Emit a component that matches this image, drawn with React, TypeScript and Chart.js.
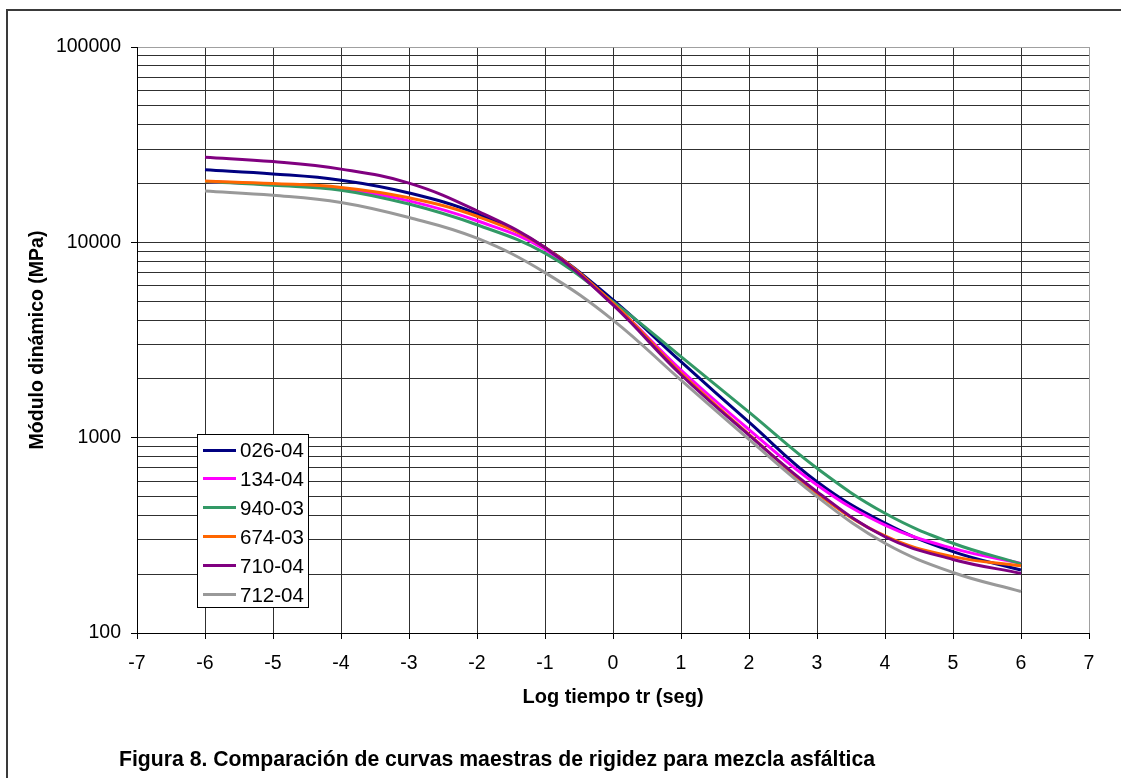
import React, { useEffect, useRef } from "react";
import { Chart, registerables } from "chart.js";

Chart.register(...registerables);

const logTime = [-6, -5, -4, -3, -2, -1, 0, 1, 2, 3, 4, 5, 6];
const s02604 = [23500, 22400, 20800, 17900, 14000, 9400, 5070, 2450, 1200, 595, 365, 261, 210];
const s13404 = [20500, 19800, 18800, 16300, 12900, 9200, 4850, 2220, 1100, 573, 357, 271, 227];
const s94003 = [20500, 19600, 18500, 15700, 12300, 8800, 4970, 2600, 1350, 697, 410, 288, 226];
const s67403 = [20600, 20000, 19100, 16900, 13600, 9400, 4880, 2140, 1040, 519, 314, 246, 221];
const s71004 = [27300, 25900, 23700, 20100, 14500, 9400, 4780, 2100, 1030, 529, 311, 238, 202];
const s71204 = [18300, 17400, 16000, 13400, 10500, 7000, 4000, 1970, 980, 499, 288, 204, 163];

const seriesNames = ["026-04", "134-04", "940-03", "674-03", "710-04", "712-04"];
const seriesValues = [s02604, s13404, s94003, s67403, s71004, s71204];
const seriesColors = ["#000080", "#FF00FF", "#339966", "#FF6600", "#800080", "#999999"];

const yMajorTicks = [100, 1000, 10000, 100000];
const xTitle = "Log tiempo tr (seg)";
const yTitle = "Módulo dinámico (MPa)";
const caption = "Figura 8. Comparación de curvas maestras de rigidez para mezcla asfáltica";

const FONT = "Arial, 'Liberation Sans', sans-serif";

function isMajor(v: number) {
  return yMajorTicks.some((m) => Math.abs(m - v) < 1e-6);
}

export default function App() {
  const ref = useRef<HTMLCanvasElement | null>(null);

  useEffect(() => {
    if (!ref.current) return;
    const datasets = seriesNames.map((name, i) => ({
      label: name,
      data: logTime.map((x, j) => ({ x, y: seriesValues[i][j] })),
      borderColor: seriesColors[i],
      backgroundColor: seriesColors[i],
      borderWidth: 3,
      pointRadius: 0,
      fill: false,
      tension: 0.4,
      order: seriesNames.length - i,
    }));

    const chart = new Chart(ref.current, {
      type: "line",
      data: { datasets },
      options: {
        animation: false,
        responsive: false,
        layout: { padding: { left: 0, top: 47, right: 32, bottom: 0 } },
        plugins: { legend: { display: false }, tooltip: { enabled: false } },
        scales: {
          x: {
            type: "linear",
            min: -7,
            max: 7,
            afterFit: (scale: any) => {
              scale.height = 145;
            },
            ticks: {
              stepSize: 1,
              color: "#000",
              padding: 13,
              font: { family: FONT, size: 19.5 },
            },
            grid: {
              color: (ctx: any) => (ctx.tick && ctx.tick.value === 7 ? "#a0a0a0" : "#303030"),
              lineWidth: 1,
              tickLength: 6,
              tickColor: "#000",
            },
            border: { color: "#000", width: 1 },
            title: {
              display: true,
              text: xTitle,
              color: "#000",
              font: { family: FONT, size: 20, weight: "bold" },
              padding: { top: 0, bottom: 69 },
            },
          },
          y: {
            type: "logarithmic",
            min: 100,
            max: 100000,
            afterFit: (scale: any) => {
              scale.width = 137;
            },
            afterBuildTicks: (scale: any) => {
              const t: { value: number }[] = [];
              for (let p = 100; p < 100000; p *= 10) {
                for (let k = 1; k <= 9; k++) t.push({ value: p * k });
              }
              t.push({ value: 100000 });
              scale.ticks = t;
            },
            ticks: {
              autoSkip: false,
              color: "#000",
              padding: 10,
              font: { family: FONT, size: 19.5 },
              callback: (v: any) => (isMajor(Number(v)) ? String(Math.round(Number(v))) : ""),
            },
            grid: {
              color: (ctx: any) => (ctx.tick && ctx.tick.value === 100000 ? "#a0a0a0" : "#303030"),
              lineWidth: 1,
              tickLength: 6,
              tickColor: (ctx: any) => (ctx.tick && isMajor(ctx.tick.value) ? "#000" : "rgba(0,0,0,0)"),
            },
            border: { color: "#000", width: 1 },
            title: {
              display: true,
              text: yTitle,
              color: "#000",
              font: { family: FONT, size: 19.5, weight: "bold" },
              padding: { top: 26, bottom: 0 },
            },
          },
        },
      },
    });
    return () => chart.destroy();
  }, []);

  return (
    <div
      style={{
        position: "absolute",
        left: 0,
        top: 0,
        width: 1121,
        height: 778,
        overflow: "hidden",
        background: "#fff",
        fontFamily: FONT,
      }}
    >
      <div
        style={{
          position: "absolute",
          left: 6,
          top: 9,
          width: 1300,
          height: 1000,
          borderLeft: "2px solid #3a3a3a",
          borderTop: "2px solid #3a3a3a",
        }}
      />
      <canvas ref={ref} width={1121} height={778} style={{ position: "absolute", left: 0, top: 0 }} />
      <div
        style={{
          position: "absolute",
          left: 197,
          top: 434,
          width: 110,
          height: 172,
          border: "1px solid #000",
          background: "#fff",
        }}
      >
        {seriesNames.map((n, i) => (
          <div
            key={n}
            style={{
              position: "absolute",
              left: 0,
              top: 15 + i * 28.9 - 14,
              height: 28,
              display: "flex",
              alignItems: "center",
            }}
          >
            <div style={{ marginLeft: 5, width: 33, height: 3, background: seriesColors[i] }} />
            <span style={{ marginLeft: 4, fontSize: 20.5, color: "#000", lineHeight: "28px" }}>{n}</span>
          </div>
        ))}
      </div>
      <div
        style={{
          position: "absolute",
          left: 119,
          top: 747,
          fontSize: 21.2,
          fontWeight: "bold",
          color: "#000",
          whiteSpace: "nowrap",
          lineHeight: "24px",
        }}
      >
        {caption}
      </div>
    </div>
  );
}
